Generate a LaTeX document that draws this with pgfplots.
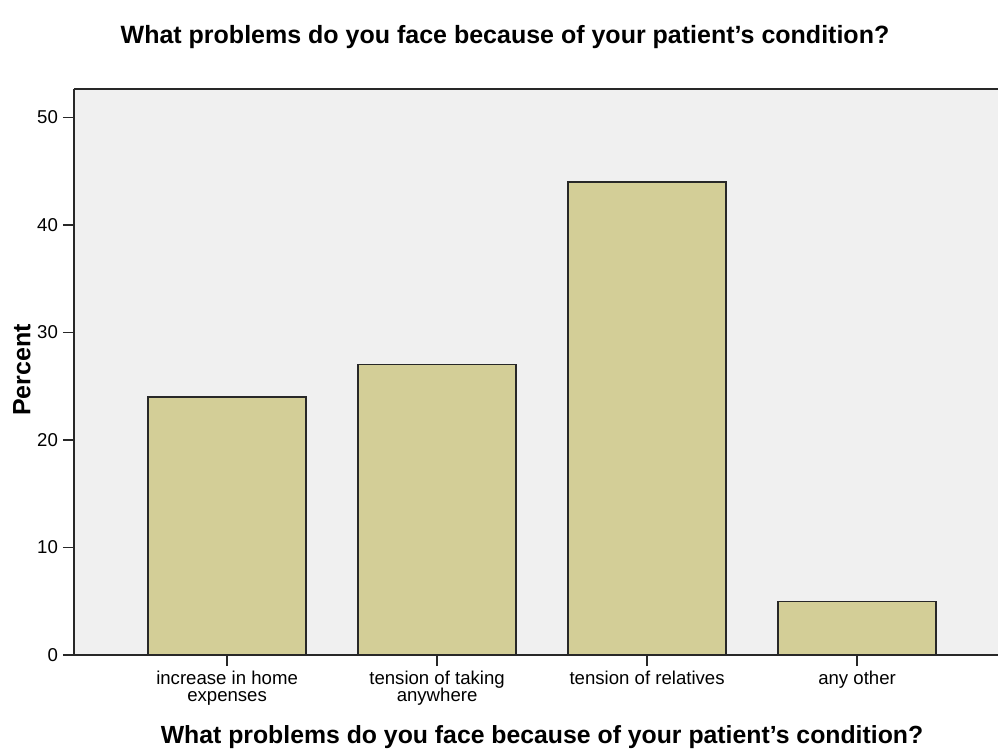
\documentclass[border=0pt]{standalone}
\usepackage{fontspec}
\setmainfont{Liberation Sans}
\usepackage{pgfplots}
\pgfplotsset{compat=1.18}
\definecolor{bggray}{RGB}{240,240,240}
\definecolor{barfill}{RGB}{211,206,151}
\definecolor{axisdark}{RGB}{40,40,40}
\begin{document}
\begin{tikzpicture}
\begin{axis}[
  at={(0,0)}, anchor=south west,
  scale only axis,
  width=462pt, height=283pt,
  xmin=-0.729, xmax=3.671,
  ymin=0, ymax=52.65,
  axis background/.style={fill=bggray},
  axis x line*=box, axis y line*=left,
  xtick pos=lower, ytick pos=left,
  axis line style={axisdark, line width=1pt},
  tick align=outside,
  major tick length=5.5pt,
  tick style={axisdark, line width=0.8pt},
  xtick={0,1,2,3},
  xticklabels={{increase in home\\[-2pt]expenses},{tension of taking\\[-2pt]anywhere},{tension of relatives},{any other}},
  xticklabel style={align=center, font=\fontsize{9.3}{10.5}\selectfont, text=black, yshift=1pt},
  ytick={0,10,20,30,40,50},
  yticklabel style={font=\fontsize{9.3}{10.5}\selectfont, text=black, xshift=1pt},
  /pgf/number format/assume math mode=true,
  ybar, bar width=79pt,
  clip=false,
]
\addplot[fill=barfill, draw=axisdark, line width=0.7pt] coordinates {(0,24) (1,27) (2,44) (3,5)};
\end{axis}
\node[font=\bfseries\fontsize{12.5}{14}\selectfont] at (215.5pt,309pt) {What problems do you face because of your patient’s condition?};
\node[font=\bfseries\fontsize{12.4}{14}\selectfont] at (234pt,-41pt) {What problems do you face because of your patient’s condition?};
\node[font=\bfseries\fontsize{12.5}{14}\selectfont, rotate=90] at (-26pt,142.5pt) {Percent};
\pgfresetboundingbox
\path[use as bounding box] (-37pt,-49.5pt) rectangle (462pt,327.5pt);
\end{tikzpicture}
\end{document}
